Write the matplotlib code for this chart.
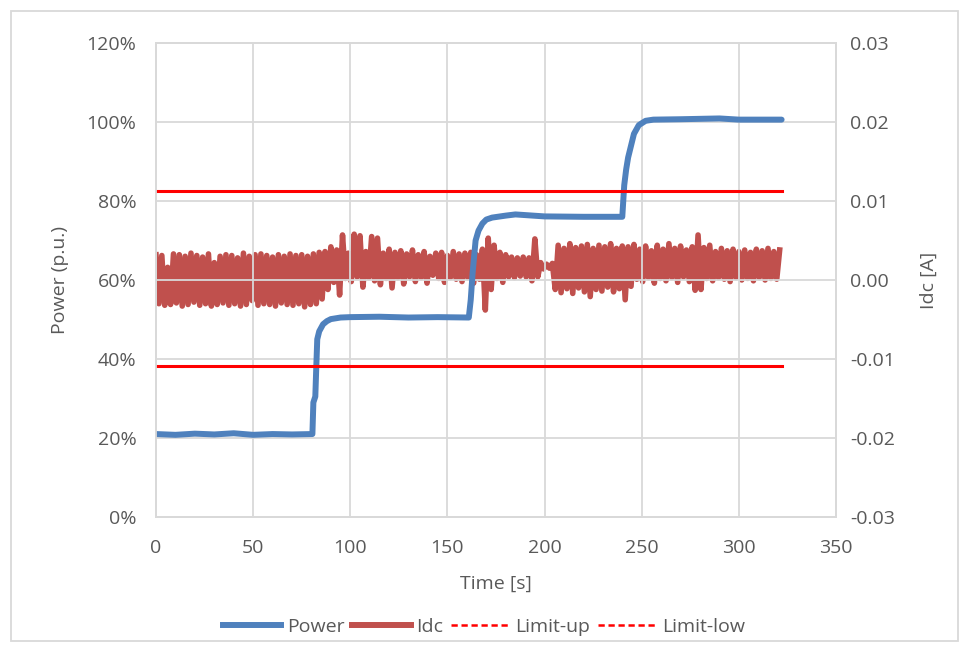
import numpy as np
import matplotlib
matplotlib.use('Agg')
import matplotlib.pyplot as plt
from matplotlib.lines import Line2D
from matplotlib.patches import Rectangle
from matplotlib.ticker import PercentFormatter, FormatStrFormatter

plt.rcParams['font.family'] = ['Open Sans', 'DejaVu Sans']

# Power (p.u., in %) read at breakpoints from the chart
power_t = [0, 10, 20, 30, 40, 50, 60, 70, 80.5, 81, 82, 82.5, 83, 84, 86, 88, 90, 95, 100, 115,
           130, 145, 161, 162, 163, 164.5, 166, 168, 170, 173, 180, 185, 200, 220, 240,
           240.5, 241, 242, 243, 244, 246, 248.5, 252, 256, 270, 290, 300, 322]
power_pct = [21.0, 20.8, 21.1, 20.9, 21.2, 20.8, 21.0, 20.9, 21.0, 29.0, 30.5, 38.0, 45.0,
             47.0, 48.8, 49.6, 50.1, 50.5, 50.6, 50.7, 50.5, 50.6, 50.5, 55.0, 62.0, 70.0, 72.5,
             74.3, 75.3, 75.8, 76.3, 76.6, 76.1, 76.0, 76.0, 80.0, 84.0, 88.0, 91.0, 93.0,
             97.0, 99.2, 100.3, 100.6, 100.7, 100.9, 100.6, 100.6]

# Idc in mA, one sample every 1.5 s starting at t = 0
idc_ma = [
    3.2, -3.0, 3.1, -3.2, 1.6, -3.1, 3.3, -2.9, 3.2, -3.3, 3.0, -3.1, 3.4, -2.8, 3.1, -3.2,
    2.9, -3.0, 3.3, -3.3, 2.2, -3.1, 3.0, -2.9, 3.2, -3.2, 3.1, -3.0, 2.8, -3.3, 3.4, -3.1,
    3.0, -2.6, 3.2, -3.2, 3.3, -3.0, 3.1, -3.1, 2.9, -3.3, 3.2, -2.9, 3.0, -3.1, 3.3, -3.2,
    3.1, -3.0, 3.2, -3.4, 3.0, -3.1,
    3.3, -3.0, 3.5, -2.4, 3.6, -1.2, 4.2, -0.3, 3.8, -1.9, 5.7, 0.2, 3.4,
    -0.2, 5.8, 0.4, 5.6, -0.9, 3.6, 0.3, 5.5, -0.1, 5.3, -0.6, 3.4, 0.2, 3.9, -1.0, 3.5,
    0.3, 3.7, -0.5, 3.3, 0.4, 3.8, -0.2, 3.2, 0.3, 3.6, -0.4, 3.0, 0.6, 3.4, 0.2, 3.5,
    -0.3, 3.1, 0.3, 3.6, 0.1, 3.3, -0.2, 3.4,
    0.3, 3.5, -0.4, 3.2, 0.1, 3.9, -3.8, 5.3, -1.2, 4.4, 0.2, 3.5, -0.3, 3.2, 0.4, 2.9,
    0.3, 2.8, 0.5, 2.9, 0.4, 2.8, -0.1, 5.2, 0.4, 2.2, 1.4, 2.0, 1.5, 2.1,
    -1.2, 4.4, -1.6, 4.0, -1.1, 4.6, -1.7, 4.1, -1.0, 4.3, -1.5, 4.5, -2.1, 4.0, -1.2, 4.4,
    -1.4, 4.2, -0.9, 4.6, -1.5, 4.0, -1.1, 4.3,
    -2.5, 4.2, -0.8, 4.5, 0.1, 3.9, -0.2, 4.3, 0.3, 3.7, -0.4, 4.4, 0.2, 3.9, -0.1, 4.6,
    0.3, 4.0, -0.3, 4.3, 0.4, 3.8, -0.2, 4.2, -1.3, 5.7, -1.2, 4.1, 0.2, 4.4, -0.1, 3.6,
    0.3, 4.0, 0.1, 3.7, -0.2, 3.9, 0.3, 3.6, 0.0, 3.8, 0.2, 3.5, -0.1, 3.9, 0.3, 3.7,
    0.0, 4.0, 0.2, 3.6, 0.1, 3.8,
]
idc_t = np.arange(len(idc_ma)) * 1.5
idc = np.array(idc_ma) / 1000.0

limit_up = 0.0113
limit_low = -0.0109
limit_t = [0, 322]

grey = '#595959'
grid = '#d9d9d9'
blue = '#4f81bd'
red = '#c0504d'
fs = 14

fig = plt.figure(figsize=(9.69, 6.51), dpi=100)
ax1 = fig.add_axes([156 / 969, 1 - 517 / 651, 680 / 969, 474 / 651])
ax2 = ax1.twinx()
ax1.set_zorder(ax2.get_zorder() + 1)
ax1.patch.set_visible(False)

ax2.plot(idc_t, idc, color=red, lw=4.0)
ax1.plot(power_t, power_pct, color=blue, lw=4.3, solid_capstyle='round')
ax1.plot(limit_t, [limit_up] * 2, color='#ff0000', lw=2.2, transform=ax2.transData)
ax1.plot(limit_t, [limit_low] * 2, color='#ff0000', lw=2.2, transform=ax2.transData)

ax1.set_xlim(0, 350)
ax1.set_ylim(0, 120)
ax2.set_ylim(-0.03, 0.03)
ax1.set_xticks(np.arange(0, 351, 50))
ax1.set_yticks(np.arange(0, 121, 20))
ax2.set_yticks(np.arange(-0.03, 0.031, 0.01))
ax1.yaxis.set_major_formatter(PercentFormatter(decimals=0))
ax2.yaxis.set_major_formatter(FormatStrFormatter('%.2f'))

ax1.grid(True, color=grid, lw=1.3)
ax1.set_axisbelow(True)
for a in (ax1, ax2):
    for s in a.spines.values():
        s.set_color(grid)
        s.set_linewidth(1.3)
ax1.tick_params(axis='x', length=0, pad=16, labelsize=fs, labelcolor=grey)
ax1.tick_params(axis='y', length=0, pad=14, labelsize=fs, labelcolor=grey)
ax2.tick_params(axis='y', length=0, pad=10, labelsize=fs, labelcolor=grey)

ax1.set_xlabel('Time [s]', fontsize=fs, color=grey, labelpad=13)
ax1.set_ylabel('Power (p.u.)', fontsize=fs, color=grey, labelpad=13)
ax2.set_ylabel('Idc [A]', fontsize=fs, color=grey, labelpad=18)

handles = [Line2D([], [], color=blue, lw=4.3),
           Line2D([], [], color=red, lw=4.3),
           Line2D([], [], color='#ff0000', lw=1.8, ls=(0, (2.5, 1.5))),
           Line2D([], [], color='#ff0000', lw=1.8, ls=(0, (2.5, 1.5)))]
fig.legend(handles, ['Power', 'Idc', 'Limit-up', 'Limit-low'], loc='center',
           bbox_to_anchor=(484 / 969, 1 - 627 / 651), ncol=4, frameon=False,
           fontsize=fs, labelcolor=grey, handlelength=3.0, handletextpad=0.3,
           columnspacing=0.4)

fig.patches.append(Rectangle((11 / 969, 1 - 641 / 651), 947 / 969, 630 / 651,
                             transform=fig.transFigure, fill=False, ec=grid, lw=1.3))

fig.savefig('out.png', dpi=100)
